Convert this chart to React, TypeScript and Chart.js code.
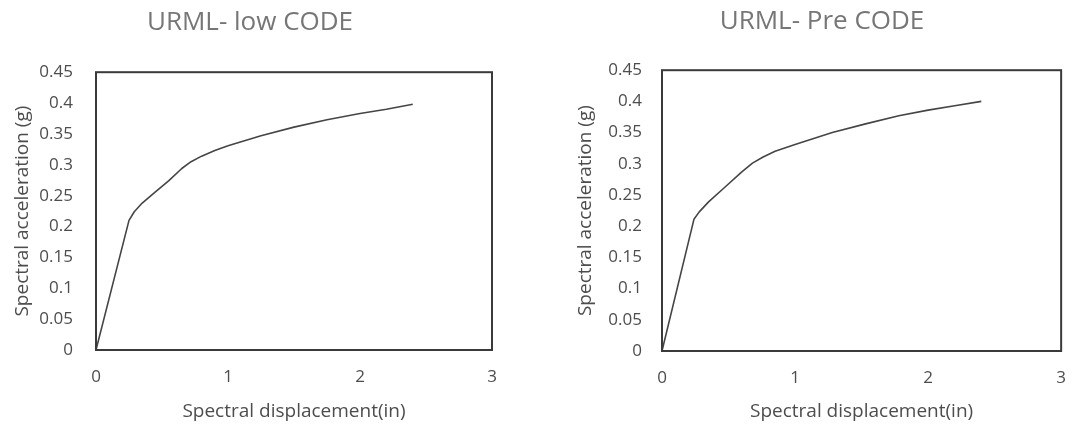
import React, { useEffect, useRef } from "react";
import { Chart, registerables } from "chart.js";

Chart.register(...registerables);

// ---- data ----
const chartTitles = ["URML- low CODE", "URML- Pre CODE"];
const xAxisTitle = "Spectral displacement(in)";
const yAxisTitle = "Spectral acceleration (g)";
const xTickValues = [0, 1, 2, 3];
const yTickValues = [0, 0.05, 0.1, 0.15, 0.2, 0.25, 0.3, 0.35, 0.4, 0.45];

const lowCodeSd = [0, 0.25, 0.29, 0.35, 0.45, 0.55, 0.65, 0.72, 0.8, 0.9, 1.0, 1.25, 1.5, 1.75, 2.0, 2.2, 2.4];
const lowCodeSa = [0, 0.21, 0.224, 0.238, 0.256, 0.274, 0.294, 0.305, 0.314, 0.323, 0.331, 0.347, 0.361, 0.373, 0.383, 0.39, 0.398];

const preCodeSd = [0, 0.24, 0.28, 0.35, 0.47, 0.6, 0.68, 0.76, 0.85, 1.0, 1.28, 1.53, 1.78, 2.0, 2.2, 2.4];
const preCodeSa = [0, 0.211, 0.223, 0.239, 0.262, 0.287, 0.301, 0.311, 0.32, 0.331, 0.35, 0.364, 0.377, 0.386, 0.393, 0.4];

const FONT = "'Open Sans', 'Noto Sans', sans-serif";

const boxPlugin = {
  id: "plotBox",
  afterDatasetsDraw(chart: any) {
    const { ctx, chartArea } = chart;
    const { left, top, right, bottom } = chartArea;
    ctx.save();
    ctx.strokeStyle = "#3a3a3a";
    ctx.lineWidth = 2;
    ctx.strokeRect(left, top, right - left, bottom - top);
    ctx.restore();
  },
};

type Lay = {
  padL: number;
  padR: number;
  yWidth: number;
  xHeight: number;
  yTitlePad: number;
  titlePadTop: number;
  titlePadBottom: number;
  yTickPad: number;
  xTickPad: number;
};

function makeConfig(title: string, xs: number[], ys: number[], lay: Lay): any {
  const points = xs.map((x, i) => ({ x, y: ys[i] }));
  return {
    type: "scatter",
    data: {
      datasets: [
        {
          data: points,
          showLine: true,
          borderColor: "#454545",
          borderWidth: 1.6,
          pointRadius: 0,
          pointHoverRadius: 0,
          tension: 0,
          borderJoinStyle: "round",
          fill: false,
        },
      ],
    },
    options: {
      animation: false,
      responsive: false,
      devicePixelRatio: 1,
      events: [],
      layout: { padding: { left: lay.padL, right: lay.padR, top: 0, bottom: 0 } },
      plugins: {
        legend: { display: false },
        tooltip: { enabled: false },
        title: {
          display: true,
          text: title,
          color: "#767676",
          font: { family: FONT, size: 26, weight: "normal" },
          padding: { top: lay.titlePadTop, bottom: lay.titlePadBottom },
        },
      },
      scales: {
        x: {
          type: "linear",
          min: 0,
          max: 3,
          afterBuildTicks: (s: any) => {
            s.ticks = xTickValues.map((v) => ({ value: v }));
          },
          afterFit: (s: any) => {
            s.height = lay.xHeight;
          },
          grid: { display: false, drawTicks: false },
          border: { display: false },
          ticks: {
            color: "#4d4d4d",
            font: { family: FONT, size: 17 },
            padding: lay.xTickPad,
            maxRotation: 0,
            callback: (v: number) => String(Number(Number(v).toFixed(2))),
          },
          title: {
            display: true,
            text: xAxisTitle,
            color: "#4d4d4d",
            font: { family: FONT, size: 19 },
            padding: { top: 0, bottom: 7 },
          },
        },
        y: {
          type: "linear",
          min: 0,
          max: 0.45,
          afterBuildTicks: (s: any) => {
            s.ticks = yTickValues.map((v) => ({ value: v }));
          },
          afterFit: (s: any) => {
            s.width = lay.yWidth;
          },
          grid: { display: false, drawTicks: false },
          border: { display: false },
          ticks: {
            color: "#4d4d4d",
            font: { family: FONT, size: 17 },
            padding: lay.yTickPad,
            callback: (v: number) => String(Number(Number(v).toFixed(2))),
          },
          title: {
            display: true,
            text: yAxisTitle,
            color: "#4d4d4d",
            font: { family: FONT, size: 19 },
            padding: { top: lay.yTitlePad, bottom: 0 },
          },
        },
      },
    },
    plugins: [boxPlugin],
  };
}

function CurveChart(props: {
  title: string;
  xs: number[];
  ys: number[];
  lay: Lay;
  width: number;
  height: number;
  left: number;
}) {
  const ref = useRef<HTMLCanvasElement | null>(null);
  useEffect(() => {
    if (!ref.current) return;
    const chart = new Chart(ref.current, makeConfig(props.title, props.xs, props.ys, props.lay));
    return () => chart.destroy();
  }, []);
  return (
    <canvas
      ref={ref}
      width={props.width}
      height={props.height}
      style={{
        position: "absolute",
        left: props.left,
        top: 0,
        width: props.width,
        height: props.height,
        display: "block",
      }}
    />
  );
}

const leftLayout: Lay = {
  padL: 8,
  padR: 48,
  yWidth: 88,
  xHeight: 80,
  yTitlePad: 3,
  titlePadTop: 7,
  titlePadBottom: 34,
  yTickPad: 23,
  xTickPad: 17,
};

const rightLayout: Lay = {
  padL: 30,
  padR: 9,
  yWidth: 92,
  xHeight: 79,
  yTitlePad: 4,
  titlePadTop: 6,
  titlePadBottom: 33,
  yTickPad: 20,
  xTickPad: 17,
};

export default function App() {
  return (
    <div
      style={{
        position: "absolute",
        left: 0,
        top: 0,
        width: 1083,
        height: 430,
        background: "#ffffff",
        overflow: "hidden",
      }}
    >
      <CurveChart title={chartTitles[0]} xs={lowCodeSd} ys={lowCodeSa} lay={leftLayout} width={540} height={430} left={0} />
      <CurveChart title={chartTitles[1]} xs={preCodeSd} ys={preCodeSa} lay={rightLayout} width={543} height={430} left={540} />
    </div>
  );
}
